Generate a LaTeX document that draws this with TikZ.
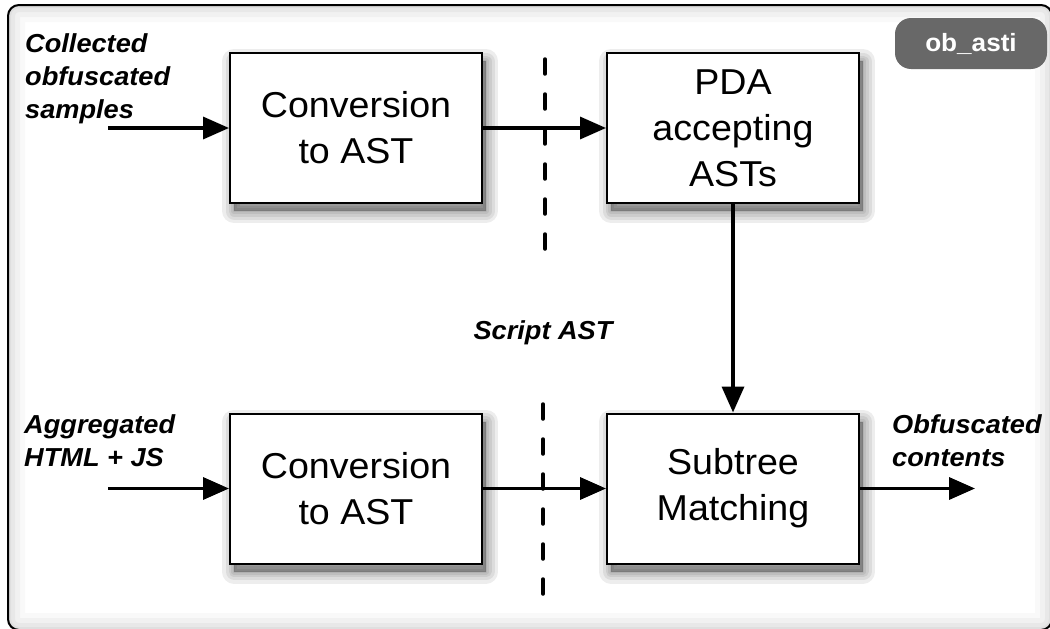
\documentclass[tikz,border=0pt]{standalone}
\usepackage{fontspec}
\setmainfont{Liberation Sans}[FakeStretch=1.045]
\usetikzlibrary{arrows.meta}

\definecolor{tagfill}{HTML}{686868}

\tikzset{
  softshade/.style={preaction={draw=black, fill=black, line width=#1, opacity=0.07,
      line join=round, transform canvas={shift={(4pt,-8pt)}}}},
  stepbox/.style={draw=black, line width=2pt, fill=white, inner sep=0pt,
      minimum width=252pt, minimum height=150pt,
      softshade=24pt, softshade=17pt, softshade=11pt, softshade=6pt, softshade=2pt,
      align=center, font=\fontsize{36}{46}\selectfont},
  tag/.style={fill=tagfill, text=white, rounded corners=16pt, inner sep=0pt,
      minimum width=152pt, minimum height=51pt,
      font=\fontsize{25}{30}\selectfont\bfseries},
  caption/.style={inner sep=0pt, align=left,
      font=\fontsize{26}{33}\selectfont\bfseries\itshape},
  flow/.style={line width=3.5pt, -{Triangle[length=26pt, width=22pt]}},
  divider/.style={line width=3.5pt, line cap=round, dash pattern=on 15pt off 20pt},
}

\begin{document}
\begin{tikzpicture}[x=1pt, y=-1pt]
  \useasboundingbox (0,0) rectangle (1050,629);
  \clip (0,0) rectangle (1050,629);

  % panel with a soft inner glow along its edge
  \begin{scope}
    \clip[rounded corners=11pt] (8,5) rectangle (1052,630);
    \foreach \w/\o in {34/0.025, 24/0.03, 14/0.035, 6/0.04}
      \draw[line width=\w pt, opacity=\o, rounded corners=11pt] (8,5) rectangle (1052,630);
  \end{scope}
  \draw[line width=2pt, rounded corners=11pt] (8,5) rectangle (1052,630);

  % tag in the corner
  \node[tag] (tag) at (971,43.5) {ob\_asti};

  % processing steps
  \node[stepbox] (conv1) at (356,128) {Conversion\\to AST};
  \node[stepbox] (pda) at (733,128) {PDA\\accepting\\ASTs};
  \node[stepbox] (conv2) at (356,488.5) {Conversion\\to AST};
  \node[stepbox] (match) at (733,488.5) {Subtree\\Matching};

  % captions
  \node[caption, anchor=north west] (samples) at (25,33) {Collected\\obfuscated\\samples};
  \node[caption, anchor=north west] (html) at (24,414) {Aggregated\\HTML + JS};
  \node[caption, anchor=north west] (result) at (892,414) {Obfuscated\\contents};
  \node[caption, anchor=center] (script) at (543,333) {Script AST};

  % dashed separators
  \coordinate (sepA1) at (545,59);
  \coordinate (sepA2) at (545,266);
  \coordinate (sepB1) at (543,404);
  \coordinate (sepB2) at (543,610);
  \draw[divider] (sepA1) -- (sepA2);
  \draw[divider] (sepB1) -- (sepB2);

  % connectors
  \coordinate (inA) at (108,128);
  \coordinate (inB) at (108,488.5);
  \coordinate (outB) at (975,488.5);
  \draw[flow] (inA) -- (conv1);
  \draw[flow] (conv1) -- (pda);
  \draw[flow] (pda) -- (match);
  \draw[flow] (inB) -- (conv2);
  \draw[flow] (conv2) -- (match);
  \draw[flow] (match) -- (outB);
\end{tikzpicture}
\end{document}
